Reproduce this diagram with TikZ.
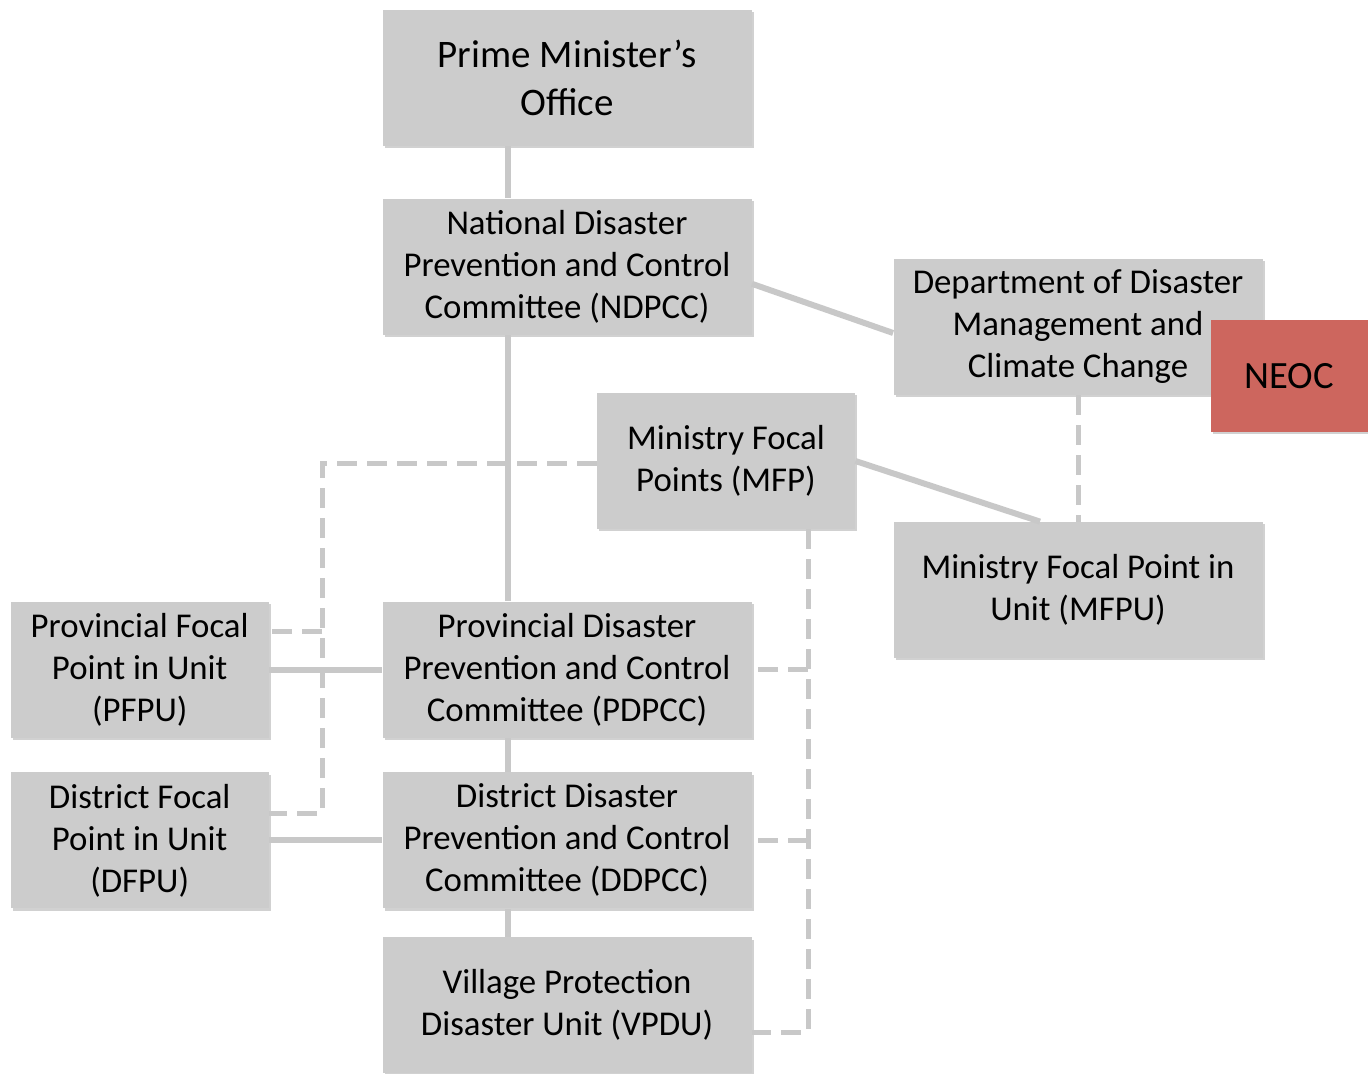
\documentclass[tikz,border=0pt]{standalone}
\usepackage{fontspec}
\setmainfont{Carlito}
\usetikzlibrary{positioning, shadows}

\definecolor{boxgray}{RGB}{204,204,204}
\definecolor{linkgray}{RGB}{200,200,200}
\definecolor{neocred}{RGB}{205,102,94}

\begin{document}
\begin{tikzpicture}[
    x=0.5pt, y=-0.5pt,
    % Box styles
    org_box/.style={fill=boxgray, rectangle, minimum width=184.5pt, minimum height=68pt, align=center, inner sep=2pt, font=\fontsize{17.4}{21}\selectfont, drop shadow={shadow xshift=1.2pt, shadow yshift=-1.2pt, fill=black, opacity=0.18}},
    small_box/.style={org_box, minimum width=129pt},
    neoc_box/.style={fill=neocred, rectangle, minimum width=78.5pt, minimum height=56pt, inner sep=2pt, font=\fontsize{19.3}{23}\selectfont, drop shadow={shadow xshift=1.2pt, shadow yshift=-1.2pt, fill=black, opacity=0.18}},
    % Link styles
    solid_link/.style={draw=linkgray, line width=3pt},
    dashed_link/.style={draw=linkgray, line width=2.5pt, dash pattern=on 10pt off 5pt}
]
    \useasboundingbox (0,0) rectangle (1368,1074);

    % ==================== Central column ====================
    \node (pm) at (567,78) [org_box, font=\fontsize{19.5}{24}\selectfont] {Prime Minister’s\\Office};
    \node (ndpcc) [org_box, below=26pt of pm] {National Disaster\\Prevention and Control\\Committee (NDPCC)};
    \node (pdpcc) [org_box, below=133pt of ndpcc] {Provincial Disaster\\Prevention and Control\\Committee (PDPCC)};
    \node (ddpcc) [org_box, below=17pt of pdpcc] {District Disaster\\Prevention and Control\\Committee (DDPCC)};
    \node (vpdu) [org_box, below=14pt of ddpcc] {Village Protection\\Disaster Unit (VPDU)};

    % ==================== Left column ====================
    \node (pfpu) [small_box, left=56.5pt of pdpcc] {Provincial Focal\\Point in Unit\\(PFPU)};
    \node (dfpu) [small_box, left=56.5pt of ddpcc] {District Focal\\Point in Unit\\(DFPU)};

    % ==================== Right side ====================
    \node (ddmcc) at (1078,327) [org_box] {Department of Disaster\\Management and\\Climate Change};
    \node (neoc) at (1289,376) [neoc_box] {NEOC};
    \node (mfp) at (726,461) [small_box] {Ministry Focal\\Points (MFP)};
    \node (mfpu) at (1078,590) [org_box] {Ministry Focal Point in\\Unit (MFPU)};

    % Bus positions
    \coordinate (spine) at (508,0);
    \coordinate (lbus) at (322,0);
    \coordinate (rbus) at (808,0);

    % Solid spine
    \draw [solid_link] (pm.south -| spine) -- (ndpcc.north -| spine);
    \draw [solid_link] (ndpcc.south -| spine) -- (pdpcc.north -| spine);
    \draw [solid_link] (pdpcc.south -| spine) -- (ddpcc.north -| spine);
    \draw [solid_link] (ddpcc.south -| spine) -- (vpdu.north -| spine);

    % Solid side links
    \draw [solid_link] ([yshift=-8.5pt]ndpcc.east) -- ([yshift=-3pt]ddmcc.west);
    \draw [solid_link] (mfp.east) -- ([xshift=-19pt]mfpu.north);
    \draw [solid_link] (pfpu) -- (pdpcc);
    \draw [solid_link] (dfpu) -- (ddpcc);

    % Dashed links
    \draw [dashed_link] (ddmcc.south) -- (mfpu.north);

    \coordinate (pfpu_tap) at ([yshift=19pt]pfpu.east);
    \coordinate (dfpu_tap) at ([yshift=13.5pt]dfpu.east);
    \draw [dashed_link] ([yshift=-1pt]mfp.west) -| (dfpu_tap -| lbus) -- (dfpu_tap);
    \draw [dashed_link] (pfpu_tap -| lbus) -- (pfpu_tap);

    \coordinate (vpdu_tap) at ([yshift=-13.5pt]vpdu.east);
    \draw [dashed_link] (mfp.south -| rbus) -- (vpdu_tap -| rbus) -- (vpdu_tap);
    \draw [dashed_link] (pdpcc.east -| rbus) -- (pdpcc.east);
    \draw [dashed_link] (ddpcc.east -| rbus) -- (ddpcc.east);

\end{tikzpicture}
\end{document}
